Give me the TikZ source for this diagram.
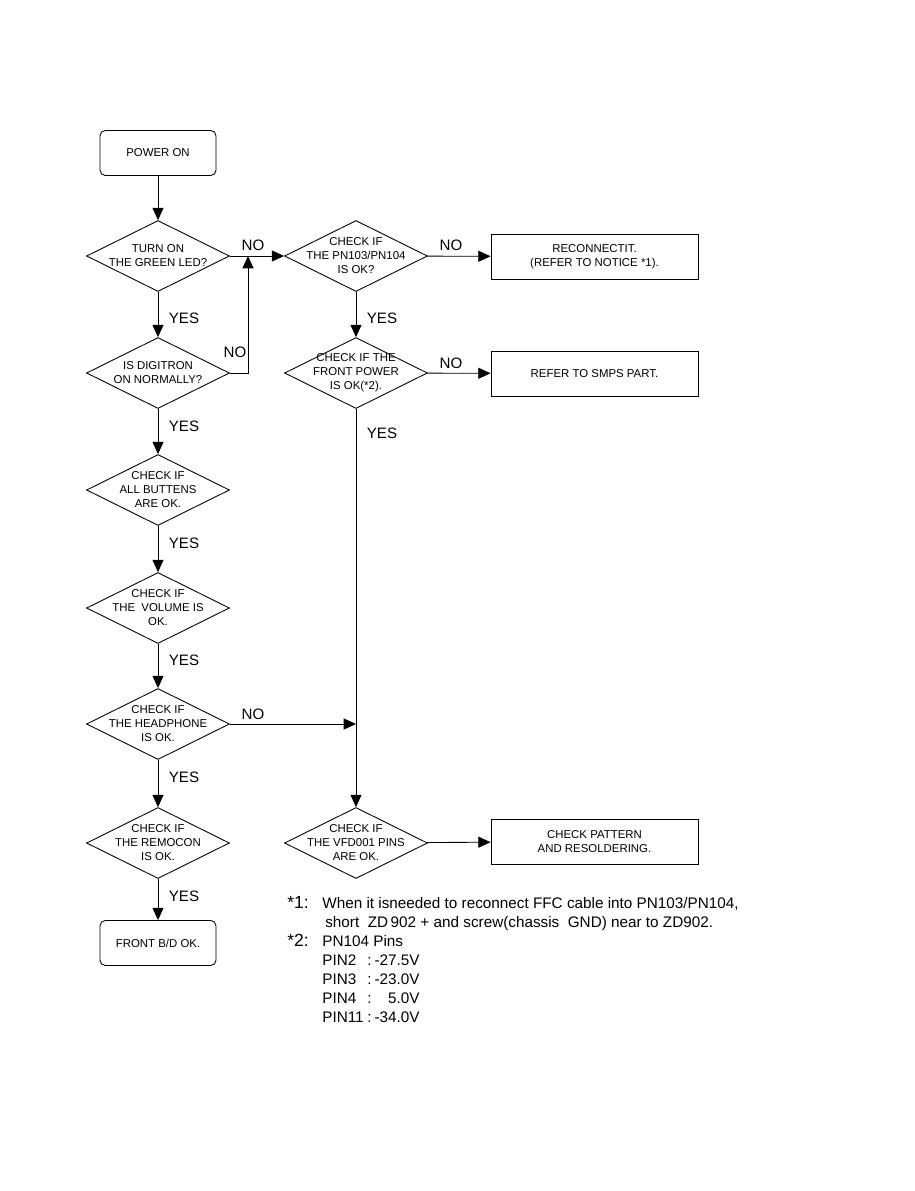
\documentclass[tikz,border=0pt]{standalone}
\usepackage{fontspec}
\setmainfont{Liberation Sans}
\usetikzlibrary{arrows.meta, positioning, shapes.geometric}
\colorlet{colLinea}{black}
\tikzset{
  cajaBase/.style={
    draw=colLinea, line width=0.5pt, align=center,
    font=\fontsize{6.5}{8}\selectfont, inner sep=0pt
  },
  cajaExtremo/.style={cajaBase, rounded corners=3pt,
    minimum width=2.32cm, minimum height=0.9cm},
  cajaAccion/.style={cajaBase, minimum width=4.14cm, minimum height=0.9cm},
  rombo/.style={cajaBase, diamond, minimum width=2.86cm, minimum height=1.42cm,
    label={[font=\fontsize{6.5}{8}\selectfont, align=center]center:#1}},
  flecha/.style={-{Triangle[length=7pt, width=6.3pt]}, line width=0.5pt, colLinea},
  etiquetaFlecha/.style={font=\fontsize{8.6}{10}\selectfont, inner sep=0pt},
  nota/.style={font=\fontsize{8.7}{10}\selectfont, inner sep=0pt, anchor=base west},
}
\begin{document}
\begin{tikzpicture}[x=0.02cm, y=-0.02cm]
  \useasboundingbox (0,0) rectangle (915,1191);
  % left column
  \node[cajaExtremo] (pwr) at (158,153) {POWER ON};
  \node[rombo={TURN ON\\THE GREEN LED?}] (led) at (158,256) {};
  \node[rombo={IS DIGITRON\\ON NORMALLY?}] (digi) at (158,373) {};
  \node[rombo={CHECK IF\\ALL BUTTENS\\ARE OK.}] (btn) at (158,490) {};
  \node[rombo={CHECK IF\\THE~~VOLUME IS\\OK.}] (vol) at (158,608) {};
  \node[rombo={CHECK IF\\THE HEADPHONE\\IS OK.}] (hp) at (158,724) {};
  \node[rombo={CHECK IF\\THE REMOCON\\IS OK.}] (rmc) at (158,843) {};
  \node[cajaExtremo] (fin) at (158,943) {FRONT B/D OK.};
  % middle column
  \node[rombo={CHECK IF\\THE PN103/PN104\\IS OK?}] (pn) at (356,256) {};
  \node[rombo={CHECK IF THE\\FRONT POWER\\IS OK(*2).}] (fp) at (356,373) {};
  \node[rombo={CHECK IF\\THE VFD001 PINS\\ARE OK.}] (vfd) at (356,843) {};
  % right column
  \node[cajaAccion] (rec) at (594.5,256.5) {RECONNECTIT.\\(REFER TO NOTICE *1).};
  \node[cajaAccion] (smps) at (594.5,373.5) {REFER TO SMPS PART.};
  \node[cajaAccion] (pat) at (594.5,841.5) {CHECK PATTERN\\AND RESOLDERING.};
  \coordinate (j1) at (248,256);
  \coordinate (j2) at (356,724);

  \draw[flecha] (pwr) -- (led);
  \draw[flecha] (led) -- (pn);
  \draw[flecha] (pn) -- (rec);
  \draw[flecha] (led) -- (digi);
  \draw[flecha] (digi.east) -| (j1);
  \draw[flecha] (pn) -- (fp);
  \draw[flecha] (fp) -- (smps);
  \draw[flecha] (fp) -- (vfd);
  \draw[flecha] (digi) -- (btn);
  \draw[flecha] (btn) -- (vol);
  \draw[flecha] (vol) -- (hp);
  \draw[flecha] (hp.east) -- (j2);
  \draw[flecha] (hp) -- (rmc);
  \draw[flecha] (rmc) -- (fin);
  \draw[flecha] (vfd) -- (pat);

  \node[etiquetaFlecha] at (253,245) {NO};
  \node[etiquetaFlecha] at (451,245) {NO};
  \node[etiquetaFlecha] at (235,352) {NO};
  \node[etiquetaFlecha] at (451,363) {NO};
  \node[etiquetaFlecha] at (253,714) {NO};
  \foreach \y in {318,426,543,660,777,896}
    \node[etiquetaFlecha] at (184,\y) {YES};
  \node[etiquetaFlecha] at (382,318) {YES};
  \node[etiquetaFlecha] at (382,433) {YES};

  % notes
  \node[nota, font=\fontsize{10}{12}\selectfont] (n1) at (287,908) {*1:};
  \node[nota] (n1a) at (322,908) {When it isneeded to reconnect FFC cable into PN103/PN104,};
  \node[nota] (n1b) at (325,927) {short~~ZD\,902 + and screw(chassis~~GND) near to ZD902.};
  \node[nota, font=\fontsize{10}{12}\selectfont] (n2) at (287,946) {*2:};
  \node[nota] (n2a) at (322,946) {PN104 Pins};
  \foreach \p/\v [count=\i] in {PIN2/-27.5V, PIN3/-23.0V, PIN4/5.0V, PIN11/-34.0V}{
    \node[nota] (pin\i) at (322,946+19*\i) {\p};
    \node[nota] at (367,946+19*\i) {:};
    \node[nota, anchor=base east] at (420,946+19*\i) {\v};
  }
\end{tikzpicture}
\end{document}
